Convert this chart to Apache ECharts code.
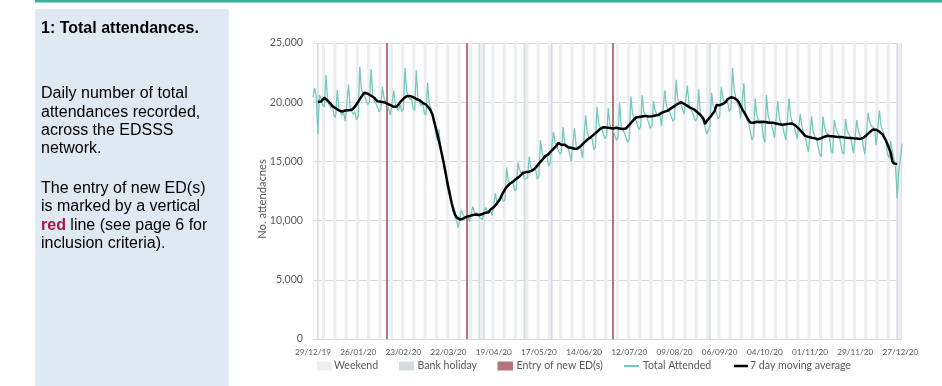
<!DOCTYPE html>
<html><head><meta charset="utf-8">
<script src="https://cdn.jsdelivr.net/npm/echarts@6/dist/echarts.min.js"></script>
<style>html,body{margin:0;padding:0;background:#fff}#c{width:942px;height:386px}</style>
</head><body><div id="c"></div>
<script>
// ---- data ----
const startDate = '2019-12-29';          // first day of the daily series (day 0)
const tickEveryDays = 28;                // x-axis label spacing
const yTicks = [0, 5000, 10000, 15000, 20000, 25000];
// Daily total attendances, 29/12/19 .. 28/12/20
const attended = [
  20400,
  21200,20500,17300,20600,20300,19800,19600,
  22300,20200,19800,19500,19700,18900,18700,
  21000,19500,19100,18900,19100,18400,18500,
  21500,19600,19200,19000,19200,18500,18800,
  23000,21100,20700,20500,20600,19800,20000,
  22800,20600,20100,19900,20000,19200,19400,
  21300,20400,20000,19800,19900,18900,18800,
  21000,19900,19500,19300,19800,19200,19400,
  22900,20900,20500,20200,20400,19500,19300,
  22700,20400,20000,19700,19900,19100,18900,
  21650,19900,19500,19000,18500,17400,16800,
  17700,16300,15600,15000,14300,12900,12300,
  12600,11300,10700,10300,10000,9400,9300,
  10900,10500,10300,10300,10400,9900,9900,
  11200,10700,10600,10600,10300,10300,10100,
  10700,11100,10800,10800,10900,10400,10300,
  12300,11600,11600,11900,12100,11600,11800,
  14500,13400,13200,13200,13200,12500,12700,
  14900,14300,14000,14200,13500,13500,13600,
  15400,14500,14200,14200,14300,13500,13800,
  16800,15700,15400,15300,15400,14600,14900,
  16200,17500,16600,16300,16300,15600,15800,
  17900,16500,16400,16300,16300,15000,14900,
  17800,16400,16100,16000,16100,15300,15400,
  18900,17400,17000,16900,16900,16000,16200,
  19600,18200,17900,17700,17800,16900,17200,
  19500,18100,17800,17600,17700,16800,17000,
  20000,18000,17600,17400,17500,16600,16900,
  20500,19000,18700,18500,18600,17700,17900,
  20600,19200,18900,18700,18800,17800,18000,
  20100,19300,19000,18900,19000,18000,18100,
  21000,19700,19400,19200,19300,18400,18600,
  21900,20300,20000,19800,19900,19000,19100,
  21400,19800,19400,19200,19300,18400,18600,
  21100,19000,18600,18400,18400,17300,17400,
  18000,20800,19700,19500,19600,18600,18800,
  21300,20400,20000,19900,20000,19200,19500,
  22900,21000,20400,19900,19600,18600,18700,
  21600,19000,18500,18200,18100,16800,17100,
  20300,18900,18500,18400,18400,17100,16600,
  20600,18900,18400,18200,18200,17000,17000,
  20100,18700,18200,18000,18000,16800,16900,
  20300,18800,18300,18100,18100,16900,17000,
  19000,17900,17400,17100,17000,15800,15900,
  18800,17500,17100,16900,16800,15600,15400,
  18800,17900,17400,17300,17200,15900,15700,
  18500,17800,17400,17200,17100,15800,15600,
  18600,17600,17300,17100,17000,15700,15600,
  18500,17500,17200,17000,16900,15600,15600,
  19100,18300,18000,17900,17800,16400,16300,
  19300,18000,17600,17200,16900,15600,15300,
  16700,15800,15200,14600,11900,14200,15200,
  16500
];
const bankHolidays = ['2020-01-01','2020-04-10','2020-04-13','2020-05-08','2020-05-25','2020-08-31','2020-12-25','2020-12-28'];
const newEdDates = ['2020-02-13','2020-04-02','2020-07-02'];
const legendLabels = ['Weekend','Bank holiday','Entry of new ED(s)','Total Attended','7 day moving average'];

// ---- helpers ----
const DAY = 864e5;
const t0 = (() => { const [y,m,d] = startDate.split('-').map(Number); return Date.UTC(y, m-1, d); })();
const lastDay = attended.length - 1;
function dayIndex(s){ const [y,m,d] = s.split('-').map(Number); return Math.round((Date.UTC(y,m-1,d) - t0) / DAY); }
const pad = n => (n < 10 ? '0' : '') + n;
function fmtDay(i){ const dt = new Date(t0 + i*DAY); return pad(dt.getUTCDate()) + '/' + pad(dt.getUTCMonth()+1) + '/' + String(dt.getUTCFullYear()).slice(2); }
const clampX = v => Math.max(0, Math.min(lastDay, v));

// 7-day (centred) moving average of the daily series
const ma = [];
for (let i = 3; i <= lastDay - 3; i++) {
  let s = 0; for (let k = -3; k <= 3; k++) s += attended[i+k];
  ma.push([i, Math.round(s / 7)]);
}

// shaded bands: weekends (Sat+Sun) and bank holidays
const WEEKEND_COL = '#eceef1', BH_COL = '#d7dce2';
const bands = [];
for (let i = -1; i <= lastDay; i++) {
  if (new Date(t0 + i*DAY).getUTCDay() === 6) {
    bands.push([{xAxis: clampX(i - 0.5), itemStyle: {color: WEEKEND_COL}}, {xAxis: clampX(i + 1.5)}]);
  }
}
bankHolidays.forEach(d => { const i = dayIndex(d);
  bands.push([{xAxis: clampX(i - 0.5), itemStyle: {color: BH_COL}}, {xAxis: clampX(i + 0.5)}]); });

const TEAL = '#78c8bd', RED = '#b5737d', GREY = '#595959';
const FONT = 'Lato';
const body = '16px "Liberation Sans", Arial, sans-serif';

const legendY = 366;
const LF = '10.6px ' + FONT;
const graphic = [
  {type:'rect', z:-20, shape:{x:35, y:9, width:194, height:377}, style:{fill:'#dfe9f4'}},
  {type:'rect', z:-20, shape:{x:35, y:0, width:907, height:2.5}, style:{fill:'#3fae98'}},
  {type:'text', x:41, y:28.5, style:{text:'1: Total attendances.', font:'bold ' + body, fill:'#000', verticalAlign:'middle'}},
  ...[['Daily number of total',94],['attendances recorded,',112.2],['across the EDSSS',130.4],['network.',148.6],
      ['The entry of new ED(s)',188.7],['is marked by a vertical',206.9],['{r|red} line (see page 6 for',225.1],['inclusion criteria).',243.3]]
    .map(([t,y]) => ({type:'text', x:41, y:y, style:{text:t, font:body, fill:'#000', verticalAlign:'middle',
      rich:{r:{fontWeight:'bold', fill:'#a3193f', fontSize:16, fontFamily:'"Liberation Sans", Arial, sans-serif'}}}})),
  {type:'text', x:262, y:199, rotation:Math.PI/2, style:{text:'No. attendacnes', font:'11.2px ' + FONT, fill:GREY, align:'center', verticalAlign:'middle'}},
  // legend
  {type:'rect', shape:{x:317, y:legendY-4.5, width:15, height:9}, style:{fill:WEEKEND_COL}},
  {type:'text', x:334, y:legendY, style:{text:legendLabels[0], font:LF, fill:GREY, verticalAlign:'middle'}},
  {type:'rect', shape:{x:399, y:legendY-4.5, width:15, height:9}, style:{fill:BH_COL}},
  {type:'text', x:417.5, y:legendY, style:{text:legendLabels[1], font:LF, fill:GREY, verticalAlign:'middle'}},
  {type:'rect', shape:{x:497.5, y:legendY-4.5, width:15.5, height:9}, style:{fill:RED}},
  {type:'text', x:516.5, y:legendY, style:{text:legendLabels[2], font:LF, fill:GREY, verticalAlign:'middle'}},
  {type:'line', shape:{x1:624, y1:legendY, x2:639, y2:legendY}, style:{stroke:TEAL, lineWidth:2}},
  {type:'text', x:643, y:legendY, style:{text:legendLabels[3], font:LF, fill:GREY, verticalAlign:'middle'}},
  {type:'line', shape:{x1:734, y1:legendY, x2:748, y2:legendY}, style:{stroke:'#000', lineWidth:2.5}},
  {type:'text', x:750, y:legendY, style:{text:legendLabels[4], font:LF, fill:GREY, verticalAlign:'middle'}}
];

const chart = echarts.init(document.getElementById('c'), null, {renderer:'canvas'});
chart.setOption({
  animation:false,
  grid:{left:313, right:40, top:43, bottom:47, outerBoundsMode:'none'},
  xAxis:{type:'value', min:0, max:lastDay, interval:tickEveryDays,
    axisLine:{show:false}, axisTick:{show:false}, splitLine:{show:false},
    axisLabel:{formatter: v => (v % tickEveryDays === 0 ? fmtDay(v) : ''), color:GREY, fontFamily:FONT, fontSize:8.2, margin:9, showMaxLabel:false}},
  yAxis:{type:'value', min:yTicks[0], max:yTicks[yTicks.length-1], interval:yTicks[1]-yTicks[0],
    axisLine:{show:false}, axisTick:{show:false},
    splitLine:{lineStyle:{color:'#d9d9d9', width:1}},
    axisLabel:{formatter: v => v.toLocaleString('en-GB'), color:GREY, fontFamily:FONT, fontSize:10.6, margin:10}},
  series:[
    {type:'line', name:legendLabels[3], data: attended.map((v,i) => [i, v]), symbol:'none', silent:true, z:3,
      lineStyle:{color:TEAL, width:1.3},
      markArea:{silent:true, z:1, data:bands},
      markLine:{silent:true, z:2, symbol:['none','none'], label:{show:false}, emphasis:{disabled:true},
        lineStyle:{color:RED, width:2, type:'solid'}, data: newEdDates.map(d => ({xAxis: dayIndex(d)}))}},
    {type:'line', name:legendLabels[4], data: ma, symbol:'none', silent:true, z:4,
      lineStyle:{color:'#000', width:2.5}}
  ],
  graphic: graphic
});
</script></body></html>
